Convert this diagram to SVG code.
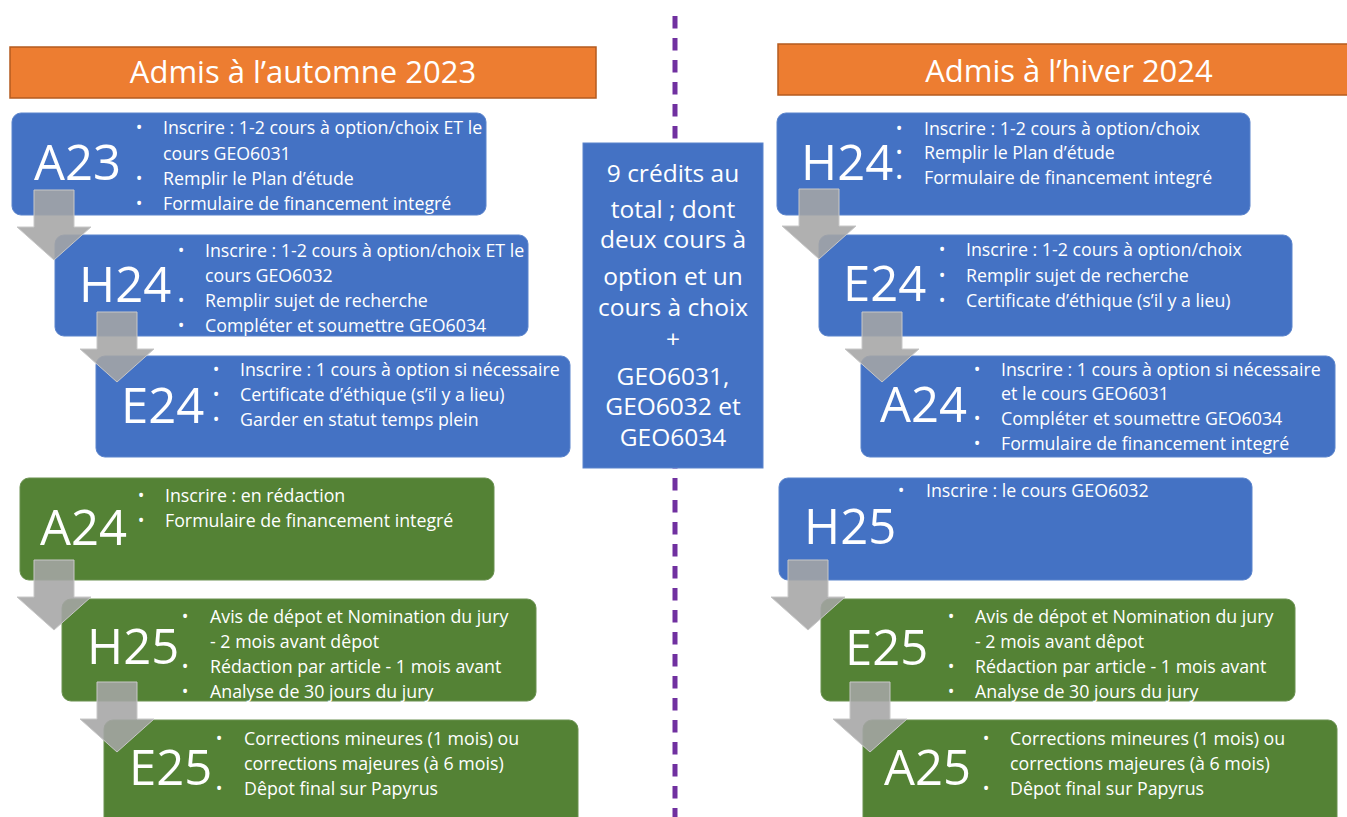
<svg xmlns="http://www.w3.org/2000/svg" xmlns:xlink="http://www.w3.org/1999/xlink" width="1347" height="817" viewBox="0 0 1347 817">
<style>
.hdr{fill:#ED7D31;stroke:#B45B1F;stroke-width:1.5}
.hdrt{font-family:"Open Sans","Noto Sans",sans-serif;font-size:31px;fill:#fff;text-anchor:middle}
.blue{fill:#4472C4;stroke:#5B84CC;stroke-width:1}
.green{fill:#548235;stroke:#6A9150;stroke-width:1}
.lbl{font-family:"Open Sans","Noto Sans",sans-serif;font-size:49px;fill:#fff}
.t{font-family:"Open Sans","Noto Sans",sans-serif;font-size:17.8px;fill:#fff}
.b{font-family:"Open Sans","Noto Sans",sans-serif;font-size:17.8px;fill:#fff;text-anchor:middle}
.ct{font-family:"Open Sans","Noto Sans",sans-serif;font-size:24.5px;fill:#fff;text-anchor:middle}
.arr{fill:#A5A5A5;fill-opacity:0.88;stroke:#C8C8C8;stroke-width:1}
</style>
<defs>
<path id="arrow" d="M-20,-70 H20 V-33 H37 L0,0 L-37,-33 H-20 Z"/>
</defs>
<rect width="1347" height="817" fill="#fff"/>
<g id="divider">
<line x1="675" y1="16" x2="675" y2="817" stroke="#7030A0" stroke-width="5" stroke-dasharray="12.5 9.5"/>
</g>
<g id="header-left">
<rect class="hdr" x="10" y="47" width="586" height="51"/>
<text class="hdrt" x="303" y="83">Admis à l’automne 2023</text>
</g>
<g id="header-right">
<rect class="hdr" x="778" y="44" width="590" height="51"/>
<text class="hdrt" x="1069" y="82">Admis à l’hiver 2024</text>
</g>
<g id="center-box">
<rect x="583" y="143" width="180" height="325" fill="#4472C4" stroke="#5B84CC" stroke-width="1"/>
<text class="ct" x="673" y="182">9 crédits au</text>
<text class="ct" x="673" y="218">total ; dont</text>
<text class="ct" x="673" y="248">deux cours à</text>
<text class="ct" x="673" y="285">option et un</text>
<text class="ct" x="673" y="316">cours à choix</text>
<text class="ct" x="673" y="348">+</text>
<text class="ct" x="673" y="385">GEO6031,</text>
<text class="ct" x="673" y="415">GEO6032 et</text>
<text class="ct" x="673" y="446">GEO6034</text>
</g>
<g id="L-A23">
<rect class="blue" x="12" y="113" width="474" height="102" rx="9"/>
<text class="lbl" x="34" y="180">A23</text>
<text class="b" x="139" y="134">•</text><text class="t" x="163" y="134">Inscrire : 1-2 cours à option/choix ET le</text>
<text class="t" x="163" y="160">cours GEO6031</text>
<text class="b" x="139" y="185">•</text><text class="t" x="163" y="185">Remplir le Plan d’étude</text>
<text class="b" x="139" y="210">•</text><text class="t" x="163" y="210">Formulaire de financement integré</text>
</g>
<g id="L-H24">
<rect class="blue" x="55" y="235" width="473" height="101" rx="9"/>
<text class="lbl" x="79" y="302">H24</text>
<text class="b" x="181" y="257">•</text><text class="t" x="205" y="257">Inscrire : 1-2 cours à option/choix ET le</text>
<text class="t" x="205" y="282">cours GEO6032</text>
<text class="b" x="181" y="307">•</text><text class="t" x="205" y="307">Remplir sujet de recherche</text>
<text class="b" x="181" y="332">•</text><text class="t" x="205" y="332">Compléter et soumettre GEO6034</text>
</g>
<g id="L-E24">
<rect class="blue" x="96" y="356" width="474" height="101" rx="9"/>
<text class="lbl" x="121" y="423">E24</text>
<text class="b" x="216" y="376">•</text><text class="t" x="240" y="376">Inscrire : 1 cours à option si nécessaire</text>
<text class="b" x="216" y="401">•</text><text class="t" x="240" y="401">Certificate d’éthique (s’il y a lieu)</text>
<text class="b" x="216" y="426">•</text><text class="t" x="240" y="426">Garder en statut temps plein</text>
</g>
<g id="L-A24">
<rect class="green" x="20" y="478" width="474" height="102" rx="9"/>
<text class="lbl" x="40" y="545">A24</text>
<text class="b" x="141" y="502">•</text><text class="t" x="165" y="502">Inscrire : en rédaction</text>
<text class="b" x="141" y="527">•</text><text class="t" x="165" y="527">Formulaire de financement integré</text>
</g>
<g id="L-H25">
<rect class="green" x="62" y="599" width="474" height="102" rx="9"/>
<text class="lbl" x="87" y="664">H25</text>
<text class="b" x="185" y="623">•</text><text class="t" x="210" y="623">Avis de dépot et Nomination du jury</text>
<text class="t" x="210" y="648">- 2 mois avant dêpot</text>
<text class="b" x="185" y="673">•</text><text class="t" x="210" y="673">Rédaction par article - 1 mois avant</text>
<text class="b" x="185" y="698">•</text><text class="t" x="210" y="698">Analyse de 30 jours du jury</text>
</g>
<g id="L-E25">
<rect class="green" x="104" y="720" width="474" height="110" rx="9"/>
<text class="lbl" x="129" y="785">E25</text>
<text class="b" x="219" y="745">•</text><text class="t" x="244" y="745">Corrections mineures (1 mois) ou</text>
<text class="t" x="244" y="770">corrections majeures (à 6 mois)</text>
<text class="b" x="219" y="795">•</text><text class="t" x="244" y="795">Dêpot final sur Papyrus</text>
</g>
<g id="R-H24">
<rect class="blue" x="777" y="113" width="473" height="102" rx="9"/>
<text class="lbl" x="801" y="180">H24</text>
<text class="b" x="899" y="135">•</text><text class="t" x="924" y="135">Inscrire : 1-2 cours à option/choix</text>
<text class="b" x="899" y="159">•</text><text class="t" x="924" y="159">Remplir le Plan d’étude</text>
<text class="b" x="899" y="184">•</text><text class="t" x="924" y="184">Formulaire de financement integré</text>
</g>
<g id="R-E24">
<rect class="blue" x="819" y="235" width="473" height="101" rx="9"/>
<text class="lbl" x="843" y="301">E24</text>
<text class="b" x="942" y="256">•</text><text class="t" x="966" y="256">Inscrire : 1-2 cours à option/choix</text>
<text class="b" x="942" y="282">•</text><text class="t" x="966" y="282">Remplir sujet de recherche</text>
<text class="b" x="942" y="307">•</text><text class="t" x="966" y="307">Certificate d’éthique (s’il y a lieu)</text>
</g>
<g id="R-A24">
<rect class="blue" x="861" y="356" width="474" height="101" rx="9"/>
<text class="lbl" x="880" y="422">A24</text>
<text class="b" x="977" y="376">•</text><text class="t" x="1001" y="376">Inscrire : 1 cours à option si nécessaire</text>
<text class="t" x="1001" y="400">et le cours GEO6031</text>
<text class="b" x="977" y="425">•</text><text class="t" x="1001" y="425">Compléter et soumettre GEO6034</text>
<text class="b" x="977" y="450">•</text><text class="t" x="1001" y="450">Formulaire de financement integré</text>
</g>
<g id="R-H25">
<rect class="blue" x="779" y="478" width="473" height="102" rx="9"/>
<text class="lbl" x="804" y="544">H25</text>
<text class="b" x="901" y="497">•</text><text class="t" x="926" y="497">Inscrire : le cours GEO6032</text>
</g>
<g id="R-E25">
<rect class="green" x="821" y="599" width="474" height="102" rx="9"/>
<text class="lbl" x="845" y="665">E25</text>
<text class="b" x="951" y="623">•</text><text class="t" x="975" y="623">Avis de dépot et Nomination du jury</text>
<text class="t" x="975" y="648">- 2 mois avant dêpot</text>
<text class="b" x="951" y="673">•</text><text class="t" x="975" y="673">Rédaction par article - 1 mois avant</text>
<text class="b" x="951" y="698">•</text><text class="t" x="975" y="698">Analyse de 30 jours du jury</text>
</g>
<g id="R-A25">
<rect class="green" x="863" y="720" width="474" height="110" rx="9"/>
<text class="lbl" x="884" y="785">A25</text>
<text class="b" x="986" y="745">•</text><text class="t" x="1010" y="745">Corrections mineures (1 mois) ou</text>
<text class="t" x="1010" y="770">corrections majeures (à 6 mois)</text>
<text class="b" x="986" y="795">•</text><text class="t" x="1010" y="795">Dêpot final sur Papyrus</text>
</g>
<g id="connectors">
<use xlink:href="#arrow" class="arr" transform="translate(54,260)"/>
<use xlink:href="#arrow" class="arr" transform="translate(117,382)"/>
<use xlink:href="#arrow" class="arr" transform="translate(54,630)"/>
<use xlink:href="#arrow" class="arr" transform="translate(117,752)"/>
<use xlink:href="#arrow" class="arr" transform="translate(819,259)"/>
<use xlink:href="#arrow" class="arr" transform="translate(882,382)"/>
<use xlink:href="#arrow" class="arr" transform="translate(808,630)"/>
<use xlink:href="#arrow" class="arr" transform="translate(870,752)"/>
</g>
</svg>
